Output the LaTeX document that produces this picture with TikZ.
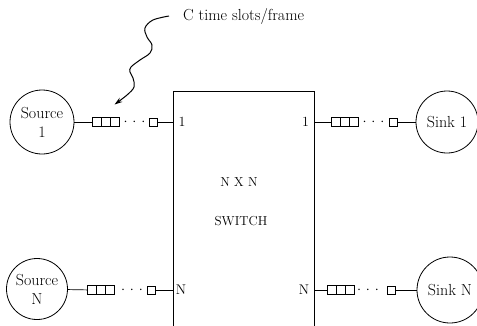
\documentclass[tikz,border=0pt]{standalone}
\usepackage{tikz}
\usetikzlibrary{arrows.meta, positioning}

\begin{document}
\begin{tikzpicture}[
    x=1pt, y=-1pt,
    endpt/.style={circle, draw=black, line width=0.8pt, minimum size=64pt,
                  inner sep=0pt, align=center, font=\fontsize{16}{19}\selectfont},
    slot/.style={rectangle, draw=black, line width=0.7pt, minimum width=9pt,
                 minimum height=9pt, inner sep=0pt, outer sep=0pt},
    lastslot/.style={slot, minimum width=8pt, minimum height=8pt},
    dotrow/.style={inner sep=0pt, font=\fontsize{14}{14}\selectfont},
    port/.style={inner sep=0pt, font=\fontsize{14}{14}\selectfont},
    link/.style={line width=0.7pt},
    squig/.style={-{Stealth[length=8pt, width=5pt]}, line width=1pt},
]
\clip (0,0) rectangle (477,325);

% The switch, open at the bottom of the picture
\node[draw=black, line width=0.8pt, minimum width=141pt, minimum height=280pt,
      inner sep=0pt, anchor=north west] (sw) at (173,91) {};
\node[font=\fontsize{13}{13}\selectfont] (nxn) at (239,182) {N X N};
\node[font=\fontsize{13}{13}\selectfont] (swt) at (241,221) {SWITCH};

% Sources and sinks
\node[endpt] (src1) at (42,122) {Source\\1};
\node[endpt, minimum size=61pt] (srcN) at (37,289) {Source\\N};
\node[endpt, minimum size=62pt] (snk1) at (447,122) {Sink 1};
\node[endpt, minimum size=66pt] (snkN) at (450,290) {Sink N};

% Input queue 1
\node[slot] (q1a) at (96.5,122) {};
\node[slot, right=0pt of q1a] (q1b) {};
\node[slot, right=0pt of q1b] (q1c) {};
\node[dotrow] (d1) at (134.5,122) {${\cdot}\hspace{5pt}{\cdot}\hspace{5pt}{\cdot}$};
\node[lastslot] (e1) at (153.5,122) {};
\node[port] (p1) at (182,122) {1};

% Input queue N
\node[slot] (qNa) at (92,290) {};
\node[slot, right=0pt of qNa] (qNb) {};
\node[slot, right=0pt of qNb] (qNc) {};
\node[dotrow] (dN) at (132,290) {${\cdot}\hspace{5pt}{\cdot}\hspace{5pt}{\cdot}$};
\node[lastslot] (eN) at (151,290) {};
\node[port] (pN) at (181,290) {N};

% Output queue 1
\node[slot] (r1a) at (335.5,122) {};
\node[slot, right=0pt of r1a] (r1b) {};
\node[slot, right=0pt of r1b] (r1c) {};
\node[dotrow] (f1) at (373.5,122) {${\cdot}\hspace{5pt}{\cdot}\hspace{5pt}{\cdot}$};
\node[lastslot] (g1) at (393,122) {};
\node[port] (o1) at (305.5,122) {1};

% Output queue N
\node[slot] (rNa) at (331.5,290) {};
\node[slot, right=0pt of rNa] (rNb) {};
\node[slot, right=0pt of rNb] (rNc) {};
\node[dotrow] (fN) at (368,290) {${\cdot}\hspace{5pt}{\cdot}\hspace{5pt}{\cdot}$};
\node[lastslot] (gN) at (391,290) {};
\node[port] (oN) at (304,290) {N};

% Links
\draw[link] (src1) -- (q1a);
\draw[link] (e1) -- (e1 -| sw.west);
\draw[link] (srcN) -- (qNa);
\draw[link] (eN) -- (eN -| sw.west);
\draw[link] (r1a -| sw.east) -- (r1a);
\draw[link] (g1) -- (snk1);
\draw[link] (rNa -| sw.east) -- (rNa);
\draw[link] (gN) -- (snkN);

% Label with wavy pointer to the slots
\node[font=\fontsize{16}{16}\selectfont, inner sep=0pt, anchor=west]
    (title) at (183,16) {C time slots/frame};
\coordinate (tip) at ([yshift=13pt]q1c.north);
\draw[squig] plot[smooth, tension=0.6] coordinates {
    ([xshift=-14pt]title.west) (153,20) (145,28) (147,37) (152,45) (150,53)
    (140,60) (131,67) (130,72) (133,78) (134,87) (127,95) (tip)};

\end{tikzpicture}
\end{document}
